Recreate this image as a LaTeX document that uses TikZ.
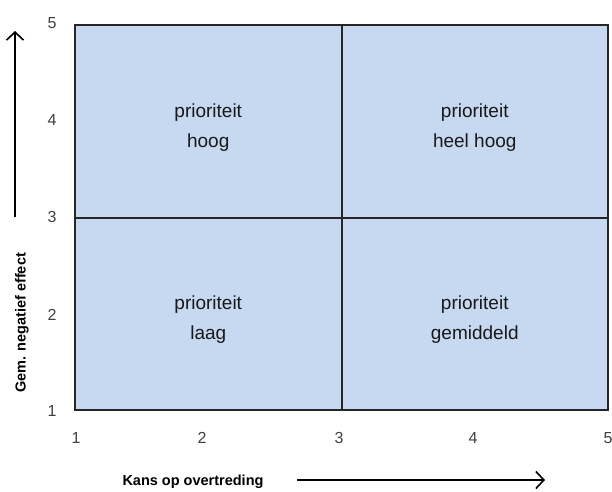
\documentclass[tikz,border=0pt]{standalone}
\usepackage{fontspec}
\setmainfont{Liberation Sans}
\usepackage{xcolor}
\usepackage{tikz}
\usetikzlibrary{positioning,arrows.meta}
\definecolor{cellblue}{HTML}{C6D9F0}

\begin{document}
\begin{tikzpicture}[x=1pt,y=-1pt,
every node/.style = {align=center, inner sep=0pt, outer sep=0pt},
cell/.style = {shape=rectangle, draw=black!85, line width=2pt,
	fill=cellblue, minimum width=266.5pt, minimum height=192.5pt},
celltext/.style = {text=black!90, font=\fontsize{19}{30}\selectfont},
tick/.style = {text=black!75, font=\fontsize{16}{16}\selectfont},
axlabel/.style = {font=\bfseries\fontsize{14.5}{14.5}\selectfont},
axarrow/.style = {line width=1.8pt,
	-{Straight Barb[length=8pt,width=17pt,line width=1.6pt]}}
]
\useasboundingbox (0,0) rectangle (612,491);
% the four cells
\node[cell] (hoog) at (208.25,121.25) {};
\node[cell,right=0pt of hoog] (heelhoog) {};
\node[cell,below=0pt of hoog] (laag) {};
\node[cell,right=0pt of laag] (gemiddeld) {};
\node[celltext] (thoog) at ([yshift=-6pt]hoog) {prioriteit\\hoog};
\node[celltext] (theelhoog) at ([yshift=-6pt]heelhoog) {prioriteit\\heel hoog};
\node[celltext] (tlaag) at ([yshift=-6pt]laag) {prioriteit\\laag};
\node[celltext] (tgemiddeld) at ([yshift=-6pt]gemiddeld) {prioriteit\\gemiddeld};
% scale values
\foreach \v/\xp in {1/76,2/202,3/339,4/473,5/608}
	\node[tick] (x\v) at (\xp,438) {\v};
\foreach \v/\yp in {5/23,4/120,3/217,2/315,1/411}
	\node[tick] (y\v) at (52,\yp) {\v};
% axis titles
\node[axlabel,rotate=90] (ylab) at (22,323) {Gem. negatief effect};
\node[axlabel] (xlab) at (193,482) {Kans op overtreding};
\coordinate (ys) at (15,217);
\coordinate (ye) at (15,31);
\coordinate (xs) at (297,480);
\coordinate (xe) at (545,480);
\draw[axarrow] (ys) -- (ye);
\draw[axarrow] (xs) -- (xe);
\end{tikzpicture}
\end{document}
